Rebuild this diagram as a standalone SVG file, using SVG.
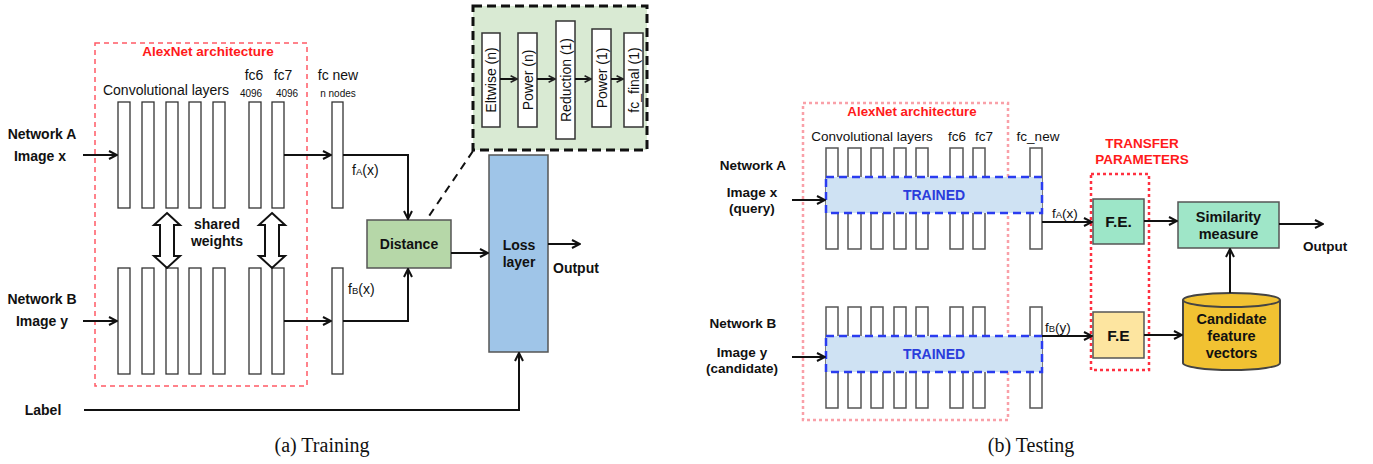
<svg xmlns="http://www.w3.org/2000/svg" width="1373" height="464" viewBox="0 0 1373 464">
<style>
text{font-family:"Liberation Sans",Arial,sans-serif;fill:#111}
.b{font-weight:bold}
.col{fill:#fff;stroke:#333;stroke-width:1.3}
.col2{fill:#fff;stroke:#555;stroke-width:1.5}
.ln{fill:none;stroke:#111;stroke-width:2}
.red{fill:#ff1a1a;font-weight:bold}
.cap{font-family:"Liberation Serif","Times New Roman",serif;font-size:20px}
.rot{font-size:14px}
</style>
<defs>
<marker id="ah" viewBox="0 0 10 10" refX="9" refY="5" markerWidth="10" markerHeight="10" markerUnits="userSpaceOnUse" orient="auto">
<path d="M1,1 L9,5 L1,9" fill="none" stroke="#111" stroke-width="2"/>
</marker>
<marker id="ahs" viewBox="0 0 10 10" refX="9" refY="5" markerWidth="8" markerHeight="8" markerUnits="userSpaceOnUse" orient="auto">
<path d="M1,1 L9,5 L1,9" fill="none" stroke="#222" stroke-width="2"/>
</marker>
</defs>

<!-- ========== (a) Training ========== -->
<g id="alexnet-a">
<rect x="95" y="43" width="212" height="343" fill="none" stroke="#ff5a66" stroke-width="1.5" stroke-dasharray="5,4"/>
<text x="208" y="56" class="red" font-size="13.5" text-anchor="middle">AlexNet architecture</text>
<text x="166" y="95" font-size="14" text-anchor="middle">Convolutional layers</text>
<text x="254" y="80" font-size="14" text-anchor="middle">fc6</text>
<text x="283" y="80" font-size="14" text-anchor="middle">fc7</text>
<text x="251" y="97" font-size="10" text-anchor="middle">4096</text>
<text x="287" y="97" font-size="10" text-anchor="middle">4096</text>
</g>
<g id="netA-layers">
<rect class="col" x="118" y="102" width="12" height="106"/>
<rect class="col" x="142" y="102" width="12" height="106"/>
<rect class="col" x="166" y="102" width="12" height="106"/>
<rect class="col" x="189" y="102" width="12" height="106"/>
<rect class="col" x="213" y="102" width="12" height="106"/>
<rect class="col" x="249" y="102" width="12" height="106"/>
<rect class="col" x="272" y="102" width="12" height="106"/>
</g>
<g id="netB-layers">
<rect class="col" x="118" y="268" width="12" height="106"/>
<rect class="col" x="142" y="268" width="12" height="106"/>
<rect class="col" x="166" y="268" width="12" height="106"/>
<rect class="col" x="189" y="268" width="12" height="106"/>
<rect class="col" x="213" y="268" width="12" height="106"/>
<rect class="col" x="249" y="268" width="12" height="106"/>
<rect class="col" x="272" y="268" width="12" height="106"/>
</g>
<g id="fcnew-a">
<text x="338" y="80" font-size="14" text-anchor="middle">fc new</text>
<text x="338" y="97" font-size="10" text-anchor="middle">n nodes</text>
<rect class="col" x="332" y="102" width="11" height="106"/>
<rect class="col" x="332" y="268" width="11" height="106"/>
</g>
<g id="shared-weights">
<polygon points="167,213 180,225 174,225 174,256 180,256 167,268 154,256 160,256 160,225 154,225" fill="#fff" stroke="#111" stroke-width="2" stroke-linejoin="miter"/>
<polygon points="272,213 285,225 279,225 279,256 285,256 272,268 259,256 265,256 265,225 259,225" fill="#fff" stroke="#111" stroke-width="2" stroke-linejoin="miter"/>
<text x="217" y="229" class="b" font-size="14" text-anchor="middle">shared</text>
<text x="217" y="246" class="b" font-size="14" text-anchor="middle">weights</text>
</g>
<g id="labels-a">
<text x="42" y="139" class="b" font-size="14" text-anchor="middle">Network A</text>
<text x="40" y="161" class="b" font-size="14" text-anchor="middle">Image x</text>
<text x="42" y="304" class="b" font-size="14" text-anchor="middle">Network B</text>
<text x="42" y="326" class="b" font-size="14" text-anchor="middle">Image y</text>
<text x="43" y="415" class="b" font-size="14" text-anchor="middle">Label</text>
<text x="352" y="175" font-size="14">f<tspan font-size="9.5">A</tspan>(x)</text>
<text x="348" y="294" font-size="14">f<tspan font-size="9.5">B</tspan>(x)</text>
</g>
<g id="distance">
<rect x="367" y="220" width="84" height="48" fill="#b6d7a8" stroke="#555" stroke-width="1.5"/>
<text x="409" y="249" class="b" font-size="14" text-anchor="middle">Distance</text>
</g>
<g id="loss-layer">
<rect x="489" y="155" width="59" height="197" fill="#9fc5e8" stroke="#555" stroke-width="1.5"/>
<text x="519" y="250" class="b" font-size="14" text-anchor="middle">Loss</text>
<text x="519" y="267" class="b" font-size="14" text-anchor="middle">layer</text>
<text x="553" y="273" class="b" font-size="14">Output</text>
</g>
<g id="distance-detail">
<rect x="473" y="6" width="174" height="144" fill="#d9ead3" stroke="#111" stroke-width="3" stroke-dasharray="9,5"/>
<rect x="482" y="33" width="18" height="94" fill="#fff" stroke="#333" stroke-width="1.5"/>
<rect x="518" y="33" width="19" height="94" fill="#fff" stroke="#333" stroke-width="1.5"/>
<rect x="556" y="21" width="19" height="118" fill="#fff" stroke="#333" stroke-width="1.5"/>
<rect x="592" y="29" width="19" height="98" fill="#fff" stroke="#333" stroke-width="1.5"/>
<rect x="624" y="33" width="19" height="94" fill="#fff" stroke="#333" stroke-width="1.5"/>
<text class="rot" transform="translate(491,80) rotate(-90)" text-anchor="middle" dominant-baseline="central">Eltwise (n)</text>
<text class="rot" transform="translate(527.5,80) rotate(-90)" text-anchor="middle" dominant-baseline="central">Power (n)</text>
<text class="rot" transform="translate(565.5,80) rotate(-90)" text-anchor="middle" dominant-baseline="central">Reduction (1)</text>
<text class="rot" transform="translate(601.5,78) rotate(-90)" text-anchor="middle" dominant-baseline="central">Power (1)</text>
<text class="rot" transform="translate(633.5,80) rotate(-90)" text-anchor="middle" dominant-baseline="central">fc_final (1)</text>
</g>
<g id="connectors-a">
<path class="ln" d="M83,155 H117" marker-end="url(#ah)"/>
<path class="ln" d="M284,155 H331" marker-end="url(#ah)"/>
<path class="ln" d="M343,155 H408 V219" marker-end="url(#ah)"/>
<path class="ln" d="M83,321 H117" marker-end="url(#ah)"/>
<path class="ln" d="M284,321 H331" marker-end="url(#ah)"/>
<path class="ln" d="M343,321 H408 V269" marker-end="url(#ah)"/>
<path class="ln" d="M451,253 H488" marker-end="url(#ah)"/>
<path class="ln" d="M548,244 H580" marker-end="url(#ah)"/>
<path class="ln" d="M84,410 H519 V353" marker-end="url(#ah)"/>
<path class="ln" d="M473,151 L427,219" stroke-width="2.5" stroke-dasharray="8,6"/>
<path class="ln" d="M500,79 H517" marker-end="url(#ahs)"/>
<path class="ln" d="M537,79 H555" marker-end="url(#ahs)"/>
<path class="ln" d="M575,79 H591" marker-end="url(#ahs)"/>
<path class="ln" d="M611,79 H623" marker-end="url(#ahs)"/>
</g>
<text x="322" y="452" class="cap" text-anchor="middle">(a) Training</text>

<!-- ========== (b) Testing ========== -->
<g id="alexnet-b">
<rect x="803" y="103" width="205" height="317" fill="none" stroke="#f9a0a8" stroke-width="2.5" stroke-dasharray="3,3"/>
<text x="912" y="116" class="red" font-size="13.3" text-anchor="middle">AlexNet architecture</text>
<text x="872" y="141" font-size="13.5" text-anchor="middle">Convolutional layers</text>
<text x="957" y="141" font-size="13.5" text-anchor="middle">fc6</text>
<text x="984" y="141" font-size="13.5" text-anchor="middle">fc7</text>
<text x="1038" y="141" font-size="13.5" text-anchor="middle">fc_new</text>
</g>
<g id="netA-b">
<rect class="col2" x="826" y="148" width="12" height="101"/>
<rect class="col2" x="848" y="148" width="13" height="101"/>
<rect class="col2" x="871" y="148" width="12" height="101"/>
<rect class="col2" x="894" y="148" width="12" height="101"/>
<rect class="col2" x="916" y="148" width="12" height="101"/>
<rect class="col2" x="950" y="148" width="13" height="101"/>
<rect class="col2" x="973" y="148" width="12" height="101"/>
<rect class="col2" x="1030" y="148" width="12" height="101"/>
<rect x="826" y="177" width="216" height="36" fill="#cfe2f3" stroke="#2a3cf0" stroke-width="2.5" stroke-dasharray="8,5"/>
<text x="934" y="200" font-size="14" class="b" style="fill:#2a3cdc" text-anchor="middle">TRAINED</text>
</g>
<g id="netB-b">
<rect class="col2" x="826" y="307" width="12" height="101"/>
<rect class="col2" x="848" y="307" width="13" height="101"/>
<rect class="col2" x="871" y="307" width="12" height="101"/>
<rect class="col2" x="894" y="307" width="12" height="101"/>
<rect class="col2" x="916" y="307" width="12" height="101"/>
<rect class="col2" x="950" y="307" width="13" height="101"/>
<rect class="col2" x="973" y="307" width="12" height="101"/>
<rect class="col2" x="1030" y="307" width="12" height="101"/>
<rect x="826" y="336" width="216" height="36" fill="#cfe2f3" stroke="#2a3cf0" stroke-width="2.5" stroke-dasharray="8,5"/>
<text x="934" y="359" font-size="14" class="b" style="fill:#2a3cdc" text-anchor="middle">TRAINED</text>
</g>
<g id="labels-b">
<text x="753" y="170" class="b" font-size="13.5" text-anchor="middle">Network A</text>
<text x="752" y="197" class="b" font-size="13.5" text-anchor="middle">Image x</text>
<text x="752" y="213" class="b" font-size="13.5" text-anchor="middle">(query)</text>
<text x="743" y="328" class="b" font-size="13.5" text-anchor="middle">Network B</text>
<text x="742" y="357" class="b" font-size="13.5" text-anchor="middle">Image y</text>
<text x="742" y="373" class="b" font-size="13.5" text-anchor="middle">(candidate)</text>
<text x="1052" y="218" font-size="13.5">f<tspan font-size="9.5">A</tspan>(x)</text>
<text x="1045" y="332" font-size="13.5">f<tspan font-size="9.5">B</tspan>(y)</text>
</g>
<g id="transfer-params">
<rect x="1091" y="174" width="58" height="196" fill="none" stroke="#ff3040" stroke-width="2.5" stroke-dasharray="3,3"/>
<text x="1142" y="148" class="red" font-size="13.5" text-anchor="middle">TRANSFER</text>
<text x="1142" y="164" class="red" font-size="13.5" text-anchor="middle">PARAMETERS</text>
</g>
<g id="fe-a">
<rect x="1093" y="199" width="51" height="45" fill="#9de6c8" stroke="#555" stroke-width="1.5"/>
<text x="1118.5" y="227" class="b" font-size="15.5" text-anchor="middle">F.E.</text>
</g>
<g id="fe-b">
<rect x="1093" y="312" width="51" height="46" fill="#fde5a0" stroke="#555" stroke-width="1.5"/>
<text x="1118.5" y="341" class="b" font-size="15.5" text-anchor="middle">F.E</text>
</g>
<g id="similarity">
<rect x="1178" y="202" width="101" height="46" fill="#9fe6c8" stroke="#555" stroke-width="1.5"/>
<text x="1228.5" y="222" class="b" font-size="14.5" text-anchor="middle">Similarity</text>
<text x="1228.5" y="239" class="b" font-size="14.5" text-anchor="middle">measure</text>
<text x="1303" y="251" class="b" font-size="13.5">Output</text>
</g>
<g id="candidate-db">
<path d="M1183,300 A48.5,7 0 0,1 1280,300 V363 A48.5,7 0 0,1 1183,363 Z" fill="#f1c232" stroke="#444" stroke-width="2"/>
<path d="M1183,300 A48.5,7 0 0,0 1280,300" fill="none" stroke="#444" stroke-width="2"/>
<text x="1231.5" y="324" class="b" font-size="14.5" text-anchor="middle">Candidate</text>
<text x="1231.5" y="341" class="b" font-size="14.5" text-anchor="middle">feature</text>
<text x="1231.5" y="358" class="b" font-size="14.5" text-anchor="middle">vectors</text>
</g>
<g id="connectors-b">
<path class="ln" d="M792,200 H825" marker-end="url(#ah)"/>
<path class="ln" d="M1042,222 H1092" marker-end="url(#ah)"/>
<path class="ln" d="M1144,221 H1177" marker-end="url(#ah)"/>
<path class="ln" d="M1279,224 H1323" marker-end="url(#ah)"/>
<path class="ln" d="M792,357 H825" marker-end="url(#ah)"/>
<path class="ln" d="M1042,336 H1092" marker-end="url(#ah)"/>
<path class="ln" d="M1144,335 H1182" marker-end="url(#ah)"/>
<path class="ln" d="M1230,293 V249" marker-end="url(#ah)"/>
</g>
<text x="1031" y="452" class="cap" text-anchor="middle">(b) Testing</text>
</svg>
